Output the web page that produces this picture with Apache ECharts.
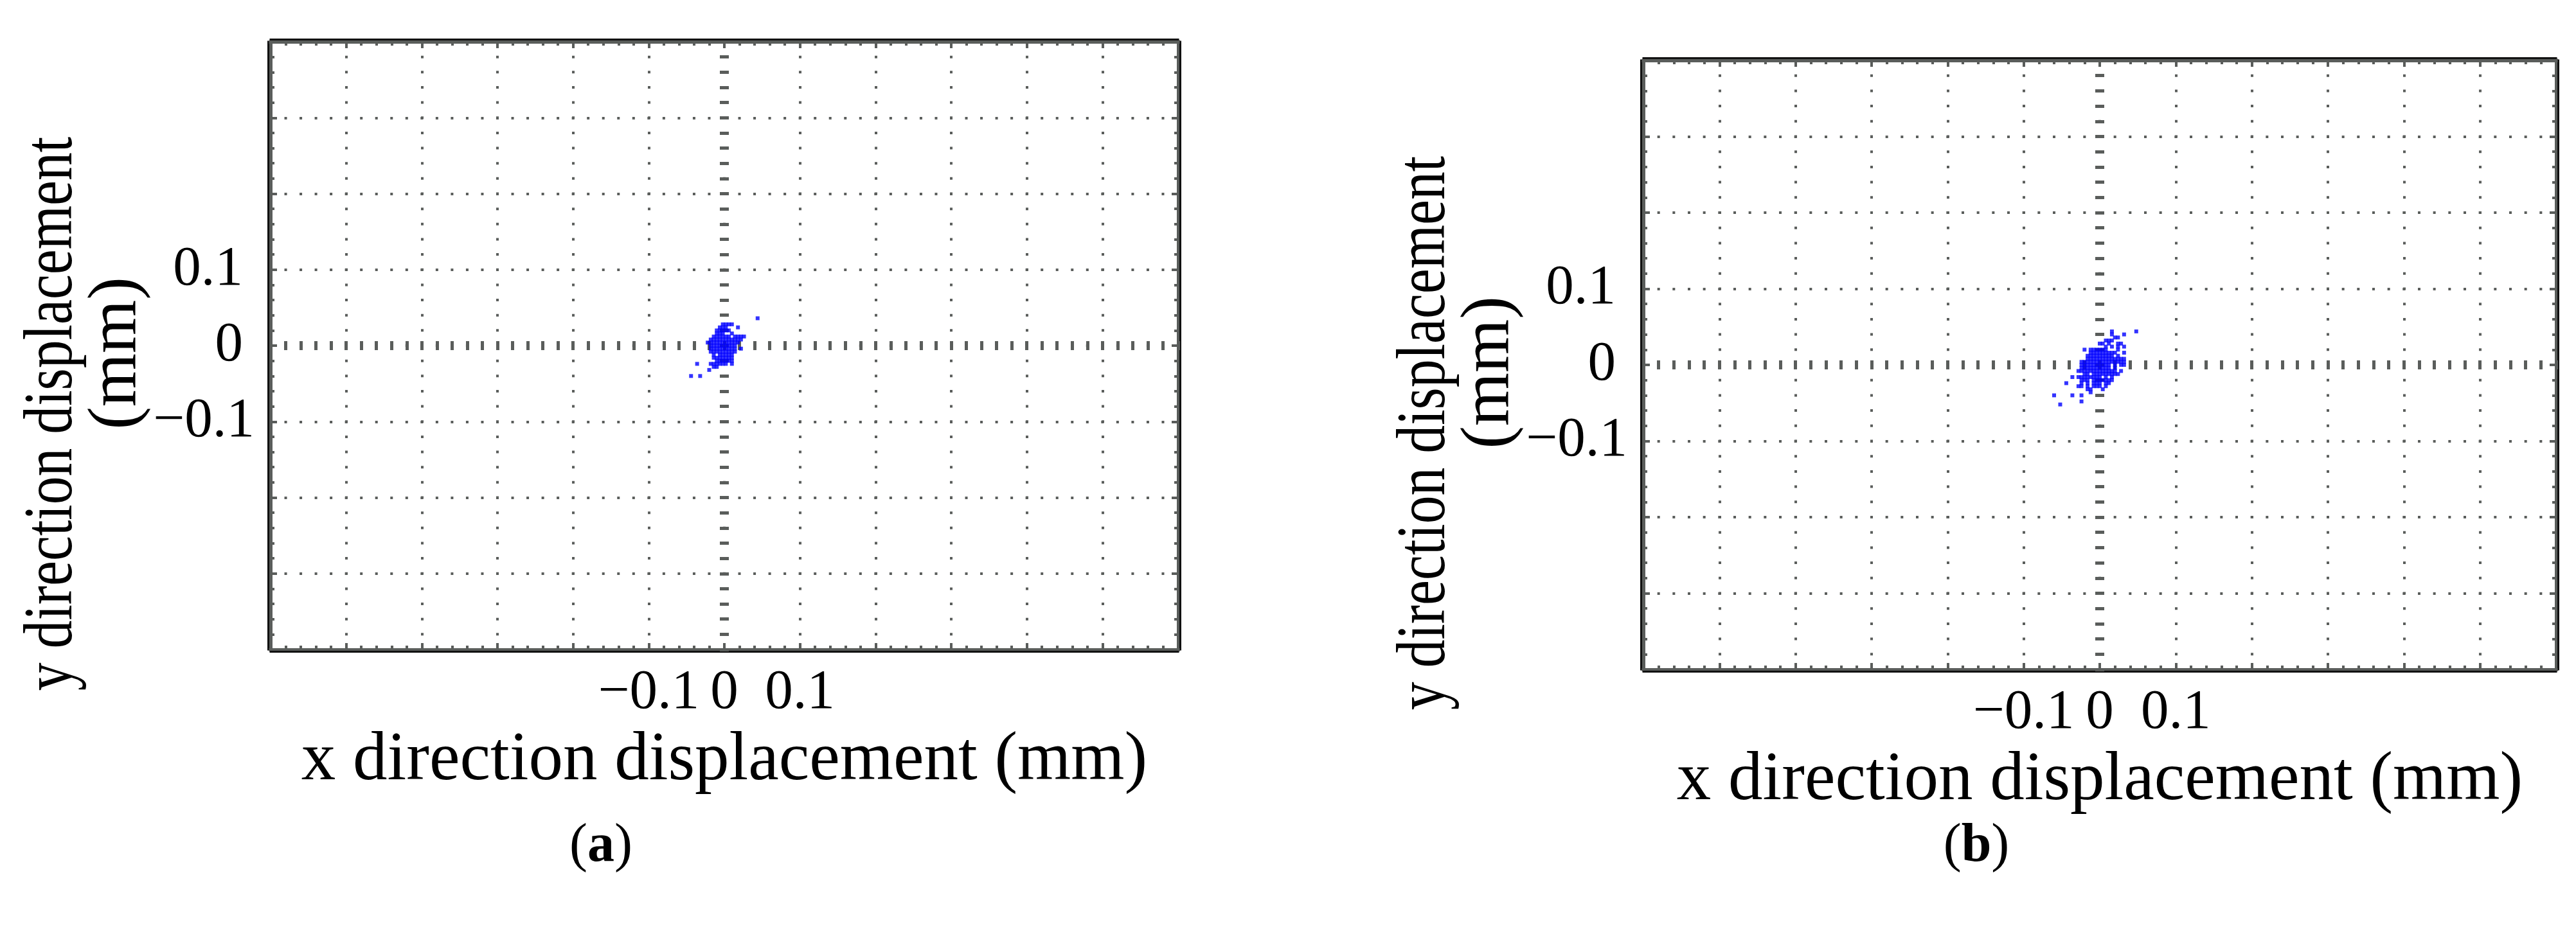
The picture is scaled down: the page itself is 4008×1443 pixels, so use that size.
<!DOCTYPE html>
<html><head><meta charset="utf-8">
<script src="https://cdn.jsdelivr.net/npm/echarts@6/dist/echarts.min.js"></script>
<style>html,body{margin:0;padding:0;background:#fff}#c{width:4008px;height:1443px}</style>
</head><body><div id="c"></div>
<script>
// ---------- data ----------
const xRange = [-0.6, 0.6];
const yRange = [-0.4, 0.4];
const gridStep = 0.1;
const xTickValues = [-0.1, 0, 0.1];
const xTickLabels = ['\u22120.1', '0', '0.1'];
const yTickValues = [-0.1, 0, 0.1];
const yTickLabels = ['\u22120.1', '0', '0.1'];
const xTitle = 'x direction displacement (mm)';
const yTitleLines = ['y direction displacement', '(mm)'];
const panelLetters = ['a', 'b'];

const pointsA = [
  [-0.002,0.028],[0.002,0.028],[0.006,0.028],[0.010,0.028],
  [-0.006,0.024],[-0.002,0.024],[0.002,0.024],[0.018,0.024],
  [-0.010,0.020],[-0.006,0.020],[-0.002,0.020],[0.002,0.020],[0.006,0.020],
  [-0.010,0.016],[-0.006,0.016],[-0.002,0.016],[0.010,0.016],
  [-0.014,0.012],[-0.010,0.012],[-0.006,0.012],[-0.002,0.012],[0.002,0.012],[0.006,0.012],[0.014,0.012],[0.018,0.012],[0.022,0.012],[0.026,0.012],
  [-0.018,0.008],[-0.014,0.008],[-0.010,0.008],[-0.006,0.008],[-0.002,0.008],[0.002,0.008],[0.006,0.008],[0.010,0.008],[0.014,0.008],[0.018,0.008],[0.022,0.008],
  [-0.022,0.004],[-0.018,0.004],[-0.014,0.004],[-0.010,0.004],[-0.006,0.004],[-0.002,0.004],[0.002,0.004],[0.006,0.004],[0.010,0.004],[0.014,0.004],[0.018,0.004],
  [-0.018,0],[-0.014,0],[-0.010,0],[-0.006,0],[-0.002,0],[0.002,0],[0.006,0],[0.010,0],[0.014,0],
  [-0.018,-0.004],[-0.014,-0.004],[-0.010,-0.004],[-0.006,-0.004],[-0.002,-0.004],[0.002,-0.004],[0.006,-0.004],[0.010,-0.004],[0.014,-0.004],[0.022,-0.004],
  [-0.018,-0.008],[-0.014,-0.008],[-0.010,-0.008],[-0.006,-0.008],[-0.002,-0.008],[0.002,-0.008],[0.006,-0.008],[0.010,-0.008],[0.014,-0.008],
  [-0.014,-0.012],[-0.006,-0.012],[-0.002,-0.012],[0.002,-0.012],[0.006,-0.012],[0.010,-0.012],
  [-0.014,-0.016],[-0.010,-0.016],[-0.006,-0.016],[-0.002,-0.016],[0.002,-0.016],[0.006,-0.016],[0.010,-0.016],
  [-0.010,-0.020],[-0.006,-0.020],[-0.002,-0.020],[0.002,-0.020],[0.006,-0.020],[0.010,-0.020],
  [-0.036,-0.024],[-0.018,-0.024],[-0.014,-0.024],[-0.010,-0.024],[-0.006,-0.024],[-0.002,-0.024],[0.002,-0.024],[0.010,-0.024],
  [-0.014,-0.028],[-0.010,-0.028],
  [-0.020,-0.032],
  [-0.044,-0.040],[-0.032,-0.040],
  [0.044,0.036]
];

const pointsB = [
  [0.016,0.044],[0.048,0.044],
  [0.016,0.040],[0.032,0.040],
  [0.020,0.036],[0.024,0.036],
  [0.008,0.032],[0.012,0.032],[0.016,0.032],
  [0.000,0.028],[0.004,0.028],[0.012,0.028],[0.024,0.028],[0.028,0.028],
  [0.008,0.024],[0.016,0.024],[0.024,0.024],[0.032,0.024],
  [-0.020,0.020],[-0.012,0.020],[-0.008,0.020],[-0.004,0.020],[0.000,0.020],[0.004,0.020],[0.008,0.020],[0.024,0.020],
  [-0.012,0.016],[-0.008,0.016],[-0.004,0.016],[0.000,0.016],[0.004,0.016],[0.008,0.016],[0.012,0.016],[0.016,0.016],[0.020,0.016],[0.032,0.016],
  [-0.016,0.012],[-0.012,0.012],[-0.008,0.012],[-0.004,0.012],[0.000,0.012],[0.004,0.012],[0.008,0.012],[0.012,0.012],[0.016,0.012],[0.024,0.012],
  [-0.016,0.008],[-0.012,0.008],[-0.008,0.008],[-0.004,0.008],[0.000,0.008],[0.004,0.008],[0.008,0.008],[0.012,0.008],[0.016,0.008],[0.020,0.008],[0.024,0.008],[0.028,0.008],[0.032,0.008],
  [-0.024,0.004],[-0.020,0.004],[-0.016,0.004],[-0.012,0.004],[-0.008,0.004],[-0.004,0.004],[0.000,0.004],[0.004,0.004],[0.008,0.004],[0.012,0.004],[0.016,0.004],[0.020,0.004],[0.024,0.004],[0.028,0.004],[0.032,0.004],
  [-0.024,0],[-0.020,0],[-0.016,0],[-0.012,0],[-0.008,0],[-0.004,0],[0.000,0],[0.004,0],[0.008,0],[0.012,0],[0.020,0],[0.028,0],[0.032,0],
  [-0.024,-0.004],[-0.020,-0.004],[-0.016,-0.004],[-0.012,-0.004],[-0.008,-0.004],[-0.004,-0.004],[0.000,-0.004],[0.004,-0.004],[0.008,-0.004],[0.012,-0.004],[0.020,-0.004],
  [-0.028,-0.008],[-0.024,-0.008],[-0.020,-0.008],[-0.016,-0.008],[-0.012,-0.008],[-0.008,-0.008],[-0.004,-0.008],[0.000,-0.008],[0.004,-0.008],[0.008,-0.008],[0.012,-0.008],[0.016,-0.008],[0.020,-0.008],[0.028,-0.008],
  [-0.020,-0.012],[-0.016,-0.012],[-0.008,-0.012],[-0.004,-0.012],[0.000,-0.012],[0.004,-0.012],[0.008,-0.012],[0.012,-0.012],[0.016,-0.012],[0.020,-0.012],[0.024,-0.012],
  [-0.036,-0.016],[-0.028,-0.016],[-0.024,-0.016],[-0.020,-0.016],[-0.016,-0.016],[-0.012,-0.016],[-0.008,-0.016],[-0.004,-0.016],[0.000,-0.016],[0.008,-0.016],[0.016,-0.016],
  [-0.024,-0.020],[-0.020,-0.020],[-0.016,-0.020],[-0.008,-0.020],[-0.004,-0.020],[0.000,-0.020],[0.004,-0.020],[0.008,-0.020],[0.012,-0.020],[0.016,-0.020],
  [-0.044,-0.024],[-0.024,-0.024],[-0.016,-0.024],[-0.008,-0.024],[-0.004,-0.024],[0.000,-0.024],[0.008,-0.024],[0.012,-0.024],
  [-0.028,-0.028],[-0.024,-0.028],[-0.016,-0.028],[-0.008,-0.028],[-0.004,-0.028],[0.000,-0.028],[0.008,-0.028],
  [-0.016,-0.032],[-0.012,-0.032],[0.004,-0.032],
  [-0.012,-0.036],
  [-0.060,-0.040],[-0.036,-0.040],[-0.024,-0.040],
  [-0.024,-0.048],
  [-0.052,-0.052]
];
const seriesPoints = [pointsA, pointsB];

// ---------- layout / style ----------
const panels = [
  { left: 421, top: 65, width: 1412, height: 946 },
  { left: 2557, top: 94, width: 1420, height: 948 }
];
const FONT = '"Liberation Serif", "Times New Roman", serif';
const GRAY = '#5a5d5b';
const BLACK = '#111111';
const TICK_FS = 87, TITLE_FS = 107;

function pick(vals, labs) {
  return function (v) {
    for (let i = 0; i < vals.length; i++) if (Math.abs(v - vals[i]) < 1e-9) return labs[i];
    return '';
  };
}
// y tick labels: negative label sits closer to the frame than the others (as in the source figure)
function pickY(vals, labs) {
  return function (v) {
    for (let i = 0; i < vals.length; i++) {
      if (Math.abs(v - vals[i]) < 1e-9) return '{' + (vals[i] < 0 ? 'neg' : 'pos') + '|' + labs[i] + '}';
    }
    return '';
  };
}

const grids = [], xAxes = [], yAxes = [], series = [], graphics = [];

panels.forEach(function (p, g) {
  grids.push({ left: p.left, top: p.top, width: p.width, height: p.height, containLabel: false, outerBoundsMode: 'none' });
  const xb = xAxes.length, yb = yAxes.length;
  const nMinorX = Math.round((xRange[1] - xRange[0]) / gridStep) * 5;
  const nMinorY = Math.round((yRange[1] - yRange[0]) / gridStep) * 5;
  const minorPxX = p.width / nMinorX;
  const minorPxY = p.height / nMinorY;

  function base(dim, pos) {
    const r = dim === 'x' ? xRange : yRange;
    return {
      gridIndex: g, type: 'value', min: r[0], max: r[1], interval: gridStep, position: pos,
      axisLabel: { show: false }, splitLine: { show: false },
      axisTick: { show: false }, minorTick: { show: false },
      axisLine: { show: false, onZero: false }, silent: true
    };
  }
  function frame(dim, pos) {
    const a = base(dim, pos);
    a.axisLine = { show: true, onZero: false, lineStyle: { color: GRAY, width: 5, cap: 'square' } };
    a.axisTick = { show: true, inside: true, length: 10, lineStyle: { color: GRAY, width: 4 } };
    a.minorTick = { show: true, splitNumber: 5, length: 6, lineStyle: { color: GRAY, width: 4 } };
    return a;
  }
  function outline(dim, pos) {
    const a = base(dim, pos);
    a.offset = 3.5;
    a.axisLine = { show: true, onZero: false, lineStyle: { color: BLACK, width: 3, cap: 'square' } };
    return a;
  }
  function origin(dim, inside, otherIdx) {
    const a = base(dim, dim === 'x' ? 'bottom' : 'left');
    a.axisLine = { show: true, onZero: true, onZeroAxisIndex: otherIdx, lineStyle: { color: GRAY, width: 1, opacity: 0 } };
    a.axisTick = { show: true, inside: inside, length: 7, lineStyle: { color: GRAY, width: 5 } };
    a.minorTick = { show: true, splitNumber: 5, length: 7, lineStyle: { color: GRAY, width: 5 } };
    return a;
  }

  const xMain = frame('x', 'bottom');
  xMain.splitLine = { show: true, lineStyle: { color: GRAY, width: 4, type: [4, minorPxY - 4], dashOffset: 2 } };
  xMain.axisLabel = { show: true, formatter: pick(xTickValues, xTickLabels), fontFamily: FONT, fontSize: TICK_FS, color: '#000', margin: 25, showMinLabel: true, showMaxLabel: true, hideOverlap: false };
  xMain.name = xTitle;
  xMain.nameLocation = 'middle';
  xMain.nameGap = 120;
  xMain.nameMoveOverlap = false;
  xMain.nameTextStyle = { fontFamily: FONT, fontSize: TITLE_FS, color: '#000' };
  xAxes.push(xMain);
  xAxes.push(frame('x', 'top'));
  xAxes.push(outline('x', 'bottom'));
  xAxes.push(outline('x', 'top'));
  xAxes.push(origin('x', true, yb));
  xAxes.push(origin('x', false, yb));

  const yMain = frame('y', 'left');
  yMain.splitLine = { show: true, lineStyle: { color: GRAY, width: 4, type: [4, minorPxX - 4], dashOffset: 2 } };
  yMain.axisLabel = {
    show: true, formatter: pickY(yTickValues, yTickLabels), fontFamily: FONT, fontSize: TICK_FS, color: '#000',
    margin: 25, showMinLabel: true, showMaxLabel: true, hideOverlap: false,
    rich: {
      neg: { fontFamily: FONT, fontSize: TICK_FS, color: '#000', padding: [0, 0, 0, 0] },
      pos: { fontFamily: FONT, fontSize: TICK_FS, color: '#000', padding: [0, 18, 0, 0] }
    }
  };
  yAxes.push(yMain);
  yAxes.push(frame('y', 'right'));
  yAxes.push(outline('y', 'left'));
  yAxes.push(outline('y', 'right'));
  yAxes.push(origin('y', true, xb));
  yAxes.push(origin('y', false, xb));

  series.push({
    type: 'scatter', xAxisIndex: xb, yAxisIndex: yb, data: seriesPoints[g],
    symbol: 'rect', symbolSize: 6, itemStyle: { color: '#0000ff' }, silent: true, z: 1
  });

  const yMid = p.top + p.height / 2;
  graphics.push({
    type: 'text', x: p.left - 338, y: yMid + 106, rotation: Math.PI / 2, scaleX: 0.82, silent: true,
    style: { text: yTitleLines[0], font: TITLE_FS + 'px ' + FONT, fill: '#000', align: 'center', verticalAlign: 'middle' }
  });
  graphics.push({
    type: 'text', x: p.left - 238, y: yMid + 12, rotation: Math.PI / 2, silent: true,
    style: { text: yTitleLines[1], font: TITLE_FS + 'px ' + FONT, fill: '#000', align: 'center', verticalAlign: 'middle' }
  });
  graphics.push({
    type: 'text', x: p.left + p.width / 2 - 192, y: 1318, silent: true,
    style: {
      text: '{p|(}{b|' + panelLetters[g] + '}{p|)}', align: 'center', verticalAlign: 'middle',
      rich: {
        p: { fontFamily: FONT, fontSize: 84, color: '#000' },
        b: { fontFamily: FONT, fontSize: 84, fontWeight: 'bold', color: '#000' }
      }
    }
  });
});

const chart = echarts.init(document.getElementById('c'));
chart.setOption({
  animation: false,
  backgroundColor: '#ffffff',
  grid: grids,
  xAxis: xAxes,
  yAxis: yAxes,
  series: series,
  graphic: graphics
});
</script>
</body></html>
